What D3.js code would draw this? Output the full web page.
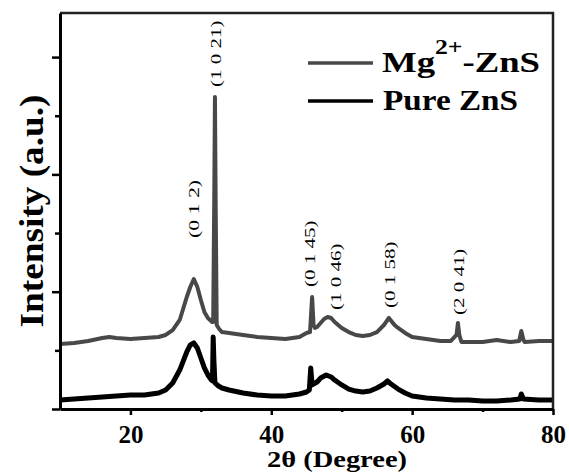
<!DOCTYPE html>
<html>
<head>
<meta charset="utf-8">
<script src="https://cdn.jsdelivr.net/npm/d3@7"></script>
<style>
  body { margin: 0; background: #fff; }
</style>
</head>
<body>
<svg id="chart1" width="569" height="474"></svg>
<script>
// XRD patterns, 2theta in degrees, intensity in arbitrary units
let mgTheta = [10, 12, 14, 16, 17, 18, 20, 22, 24, 25, 26, 27, 28, 28.5, 29, 29.5, 30, 30.5, 31, 31.6,
  31.75, 31.9, 32.0, 32.1, 32.25, 32.6, 33, 34, 35, 36, 38, 40, 42, 44, 45, 45.5, 45.8, 46.0, 46.2, 46.5,
  47, 47.5, 48, 48.5, 49, 50, 51, 52, 53, 54, 55, 56, 56.7, 57.5, 58, 59, 60, 62, 64, 65.5,
  66.3, 66.5, 66.7, 67, 68, 70, 72, 74, 75.2, 75.5, 75.8, 76, 78, 80];
let mgIntensity = [554, 563, 580, 605, 614, 605, 597, 605, 614, 631, 673, 759, 955, 1040, 1108, 1040, 929, 827, 776, 742,
  742, 1782, 2660, 1782, 716, 682, 656, 648, 639, 631, 614, 605, 597, 614, 648, 656, 955, 716, 691, 699,
  733, 767, 784, 776, 742, 691, 656, 631, 622, 631, 656, 716, 776, 716, 691, 648, 614, 597, 580, 580,
  631, 733, 631, 571, 571, 571, 588, 571, 580, 665, 588, 571, 580, 580];

let pureTheta = [10, 12, 14, 16, 18, 20, 22, 24, 25, 26, 27, 28, 28.5, 29, 29.5, 30, 30.5, 31, 31.5, 31.65,
  31.75, 31.85, 32.0, 32.5, 33, 34, 36, 38, 40, 42, 44, 45, 45.4, 45.6, 45.8, 46, 46.5, 47, 47.8, 48.5,
  49, 50, 51, 52, 53, 54, 55, 56, 56.5, 57, 58, 59, 60, 62, 64, 66, 68, 70, 72, 74,
  75.3, 75.5, 75.8, 78, 80];
let pureIntensity = [77, 85, 94, 102, 111, 119, 119, 136, 162, 222, 332, 486, 546, 563, 520, 435, 350, 290, 247, 239,
  614, 418, 222, 196, 179, 162, 136, 119, 111, 111, 128, 145, 162, 350, 205, 213, 230, 264, 290, 273,
  247, 205, 170, 153, 145, 153, 179, 213, 239, 213, 170, 136, 111, 94, 85, 77, 77, 68, 68, 77,
  85, 128, 85, 77, 77];

let peakLabels = ["(0 1 2)", "(1 0 21)", "(0 1 45)", "(1 0 46)", "(0 1 58)", "(2 0 41)"];
let peakLabelTheta = [29.0, 32.1, 45.5, 49.2, 56.9, 66.7];
let peakLabelBase = [1458, 2745, 1040, 844, 861, 801];

let xMajorTicks = [20, 40, 60, 80];
let xMinorTicks = [30, 50, 70];
let yMajorTicks = [0, 1000, 2000, 3000];
let yMinorTicks = [500, 1500, 2500];

let margin = { left: 60, right: 16, top: 13, bottom: 65 };
let width = 569, height = 474;
let serif = "'Liberation Serif', 'Times New Roman', serif";

let svg = d3.select("#chart1");

let x = d3.scaleLinear()
  .domain([10, 80])
  .range([margin.left, width - margin.right]);
let y = d3.scaleLinear()
  .domain([0, 3376])
  .range([height - margin.bottom, margin.top]);

let line = d3.line()
  .x((d) => x(d[0]))
  .y((d) => y(d[1]));

let mgData = mgTheta.map((t, i) => [t, mgIntensity[i]]);
let pureData = pureTheta.map((t, i) => [t, pureIntensity[i]]);

// curves
svg.append("path")
  .datum(mgData)
  .attr("d", line)
  .attr("fill", "none")
  .attr("stroke", "#484848")
  .attr("stroke-width", 4)
  .attr("stroke-linejoin", "round");

svg.append("path")
  .datum(pureData)
  .attr("d", line)
  .attr("fill", "none")
  .attr("stroke", "#000")
  .attr("stroke-width", 5)
  .attr("stroke-linejoin", "round");

// frame (top + right)
svg.append("path")
  .attr("d", "M" + x(10) + "," + y(3376) + "H" + x(80) + "V" + y(0))
  .attr("fill", "none")
  .attr("stroke", "#222")
  .attr("stroke-width", 2.5);

// x axis
let xAxisG = svg.append("g")
  .attr("transform", "translate(0," + y(0) + ")")
  .call(d3.axisBottom(x).tickValues(xMajorTicks).tickSize(6).tickSizeOuter(0).tickPadding(10));
svg.append("g")
  .attr("transform", "translate(0," + y(0) + ")")
  .call(d3.axisBottom(x).tickValues(xMinorTicks).tickSize(3).tickSizeOuter(0).tickFormat(""))
  .select(".domain").remove();

// y axis
svg.append("g")
  .attr("transform", "translate(" + x(10) + ",0)")
  .call(d3.axisLeft(y).tickValues(yMajorTicks).tickSize(8).tickSizeOuter(0).tickFormat(""));
svg.append("g")
  .attr("transform", "translate(" + x(10) + ",0)")
  .call(d3.axisLeft(y).tickValues(yMinorTicks).tickSize(5).tickSizeOuter(0).tickFormat(""))
  .select(".domain").remove();

svg.selectAll(".domain").attr("stroke", "#000").attr("stroke-width", 3);
svg.selectAll(".tick line").attr("stroke", "#000").attr("stroke-width", 2.5);
xAxisG.selectAll(".tick text")
  .style("font-family", serif)
  .attr("font-size", 25)
  .attr("font-weight", "bold")
  .attr("fill", "#000");

// axis titles
svg.append("text")
  .attr("x", 337)
  .attr("y", 467)
  .attr("text-anchor", "middle")
  .style("font-family", serif)
  .attr("font-size", 23)
  .attr("font-weight", "bold")
  .attr("textLength", 140)
  .attr("lengthAdjust", "spacingAndGlyphs")
  .text("2θ (Degree)");

svg.append("text")
  .attr("transform", "translate(43," + (margin.top + height - margin.bottom) / 2 + ") rotate(-90)")
  .attr("text-anchor", "middle")
  .style("font-family", serif)
  .attr("font-size", 34)
  .attr("font-weight", "bold")
  .attr("textLength", 233)
  .attr("lengthAdjust", "spacingAndGlyphs")
  .text("Intensity (a.u.)");

// peak labels
svg.selectAll(".peak")
  .data(peakLabels)
  .enter()
  .append("text")
  .attr("class", "peak")
  .attr("transform", (d, i) => "translate(" + (x(peakLabelTheta[i]) + 5) + "," + y(peakLabelBase[i]) + ") rotate(-90)")
  .attr("text-anchor", "start")
  .style("font-family", serif)
  .attr("font-size", 15)
  .attr("textLength", (d) => d.length * 8.3)
  .attr("lengthAdjust", "spacingAndGlyphs")
  .text((d) => d);

// legend
let legend = svg.append("g");
legend.append("line")
  .attr("x1", 308).attr("x2", 373).attr("y1", 63).attr("y2", 63)
  .attr("stroke", "#484848").attr("stroke-width", 3.5);
legend.append("line")
  .attr("x1", 308).attr("x2", 373).attr("y1", 101).attr("y2", 101)
  .attr("stroke", "#000").attr("stroke-width", 3.5);

let mgText = legend.append("text")
  .attr("x", 382)
  .attr("y", 72)
  .style("font-family", serif)
  .attr("font-size", 30)
  .attr("font-weight", "bold")
  .attr("textLength", 158)
  .attr("lengthAdjust", "spacingAndGlyphs");
mgText.append("tspan").text("Mg");
mgText.append("tspan").attr("font-size", 21).attr("dy", -18).text("2+");
mgText.append("tspan").attr("dy", 18).text("-ZnS");

legend.append("text")
  .attr("x", 383)
  .attr("y", 110)
  .style("font-family", serif)
  .attr("font-size", 30)
  .attr("font-weight", "bold")
  .attr("textLength", 135)
  .attr("lengthAdjust", "spacingAndGlyphs")
  .text("Pure ZnS");
</script>
</body>
</html>
